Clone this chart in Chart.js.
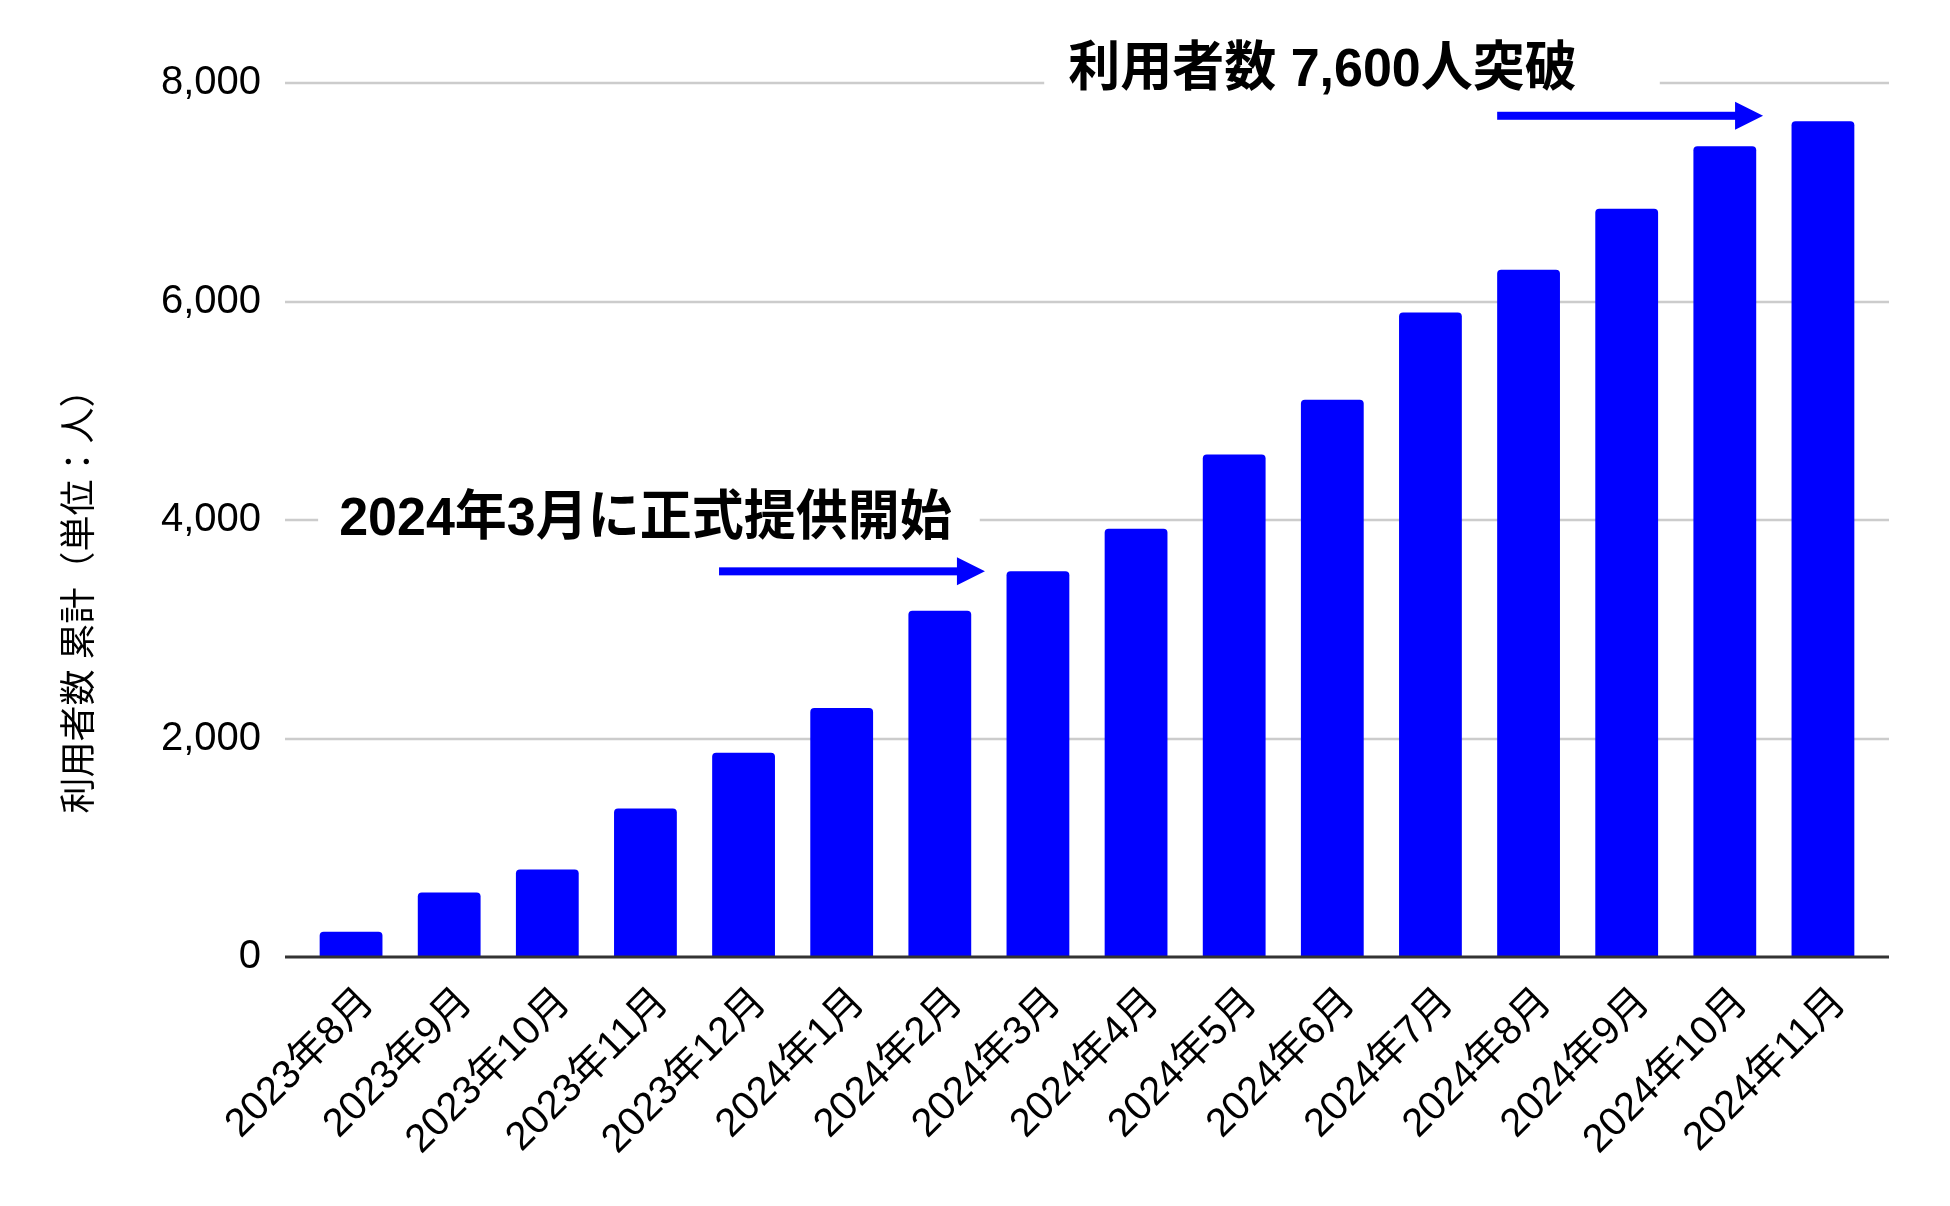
<!DOCTYPE html>
<html>
<head>
<meta charset="utf-8">
<script src="https://cdn.jsdelivr.net/npm/chart.js@4/dist/chart.umd.min.js"></script>
<style>
  body { margin: 0; background: #fff; }
</style>
</head>
<body>
<canvas id="myChart" width="1950" height="1206"></canvas>
<script>
'use strict';

// data
let months = ['2023年8月', '2023年9月', '2023年10月', '2023年11月', '2023年12月',
  '2024年1月', '2024年2月', '2024年3月', '2024年4月', '2024年5月', '2024年6月',
  '2024年7月', '2024年8月', '2024年9月', '2024年10月', '2024年11月'];
let users = [230, 590, 800, 1360, 1870, 2280, 3170, 3530, 3920, 4600, 5100, 5900, 6290, 6850, 7420, 7650];
let yTicks = [0, 2000, 4000, 6000, 8000];
let yTitle = '利用者数 累計（単位：人）';

// call-outs: text sits on a gridline, arrow points at a bar
let noteTexts = ['2024年3月に正式提供開始', '利用者数 7,600人突破'];
let noteLevels = [4000, 8000];
let noteAt = [3, 9.9];          // category position of text centre
let arrowFrom = [3.75, 11.68];  // category positions
let arrowTo = [6.46, 14.39];
let arrowLevels = [3530, 7700];

let tickFont = "'Liberation Sans', 'Noto Sans CJK JP', sans-serif";
let gridOver = 17;

let extras = {
  id: 'extras',
  beforeDatasetsDraw(chart) {
    let ctx = chart.ctx;
    let area = chart.chartArea;
    let y = chart.scales.y;
    ctx.save();
    ctx.strokeStyle = '#cccccc';
    ctx.lineWidth = 2.5;
    for (let i = 1; i < yTicks.length; i++) {
      let py = Math.round(y.getPixelForValue(yTicks[i]));
      ctx.beginPath();
      ctx.moveTo(area.left - gridOver, py);
      ctx.lineTo(area.right + gridOver, py);
      ctx.stroke();
    }
    // axis title
    ctx.fillStyle = '#000000';
    ctx.font = '36px ' + tickFont;
    ctx.textAlign = 'center';
    ctx.textBaseline = 'middle';
    ctx.translate(81, area.top + (area.bottom - area.top) * 0.583);
    ctx.rotate(-Math.PI / 2);
    ctx.fillText(yTitle, 0, 0);
    ctx.restore();
  },
  afterDatasetsDraw(chart) {
    let ctx = chart.ctx;
    let area = chart.chartArea;
    let x = chart.scales.x;
    let y = chart.scales.y;
    ctx.save();
    // base line
    let py0 = y.getPixelForValue(0);
    ctx.strokeStyle = '#333333';
    ctx.lineWidth = 3;
    ctx.beginPath();
    ctx.moveTo(area.left - gridOver, py0);
    ctx.lineTo(area.right + gridOver, py0);
    ctx.stroke();

    let padL = [21, 24];
    let padR = [28, 83];
    for (let i = 0; i < noteTexts.length; i++) {
      let cx = x.getPixelForValue(noteAt[i]);
      let cy = y.getPixelForValue(noteLevels[i]);
      ctx.font = "bold 54px 'Liberation Sans', 'Noto Sans CJK JP', sans-serif";
      let sx = 0.963;
      let w = ctx.measureText(noteTexts[i]).width * sx;
      ctx.fillStyle = '#ffffff';
      ctx.fillRect(cx - w / 2 - padL[i], cy - 34, w + padL[i] + padR[i], 68);
      ctx.fillStyle = '#000000';
      ctx.textAlign = 'center';
      ctx.textBaseline = 'middle';
      ctx.save();
      ctx.translate(cx, cy - (i === 1 ? 12 : 0));
      ctx.scale(sx, 1);
      ctx.fillText(noteTexts[i], 0, 0);
      ctx.restore();

      // arrow
      let ax0 = x.getPixelForValue(arrowFrom[i]);
      let ax1 = x.getPixelForValue(arrowTo[i]);
      let ay = y.getPixelForValue(arrowLevels[i]);
      ctx.fillStyle = '#0000ff';
      ctx.fillRect(ax0, ay - 4, ax1 - ax0 - 26, 8);
      ctx.beginPath();
      ctx.moveTo(ax1, ay);
      ctx.lineTo(ax1 - 28, ay - 14);
      ctx.lineTo(ax1 - 28, ay + 14);
      ctx.closePath();
      ctx.fill();
    }
    ctx.restore();
  }
};

let ctx = document.getElementById('myChart').getContext('2d');
let chart = new Chart(ctx, {
  type: 'bar',
  data: {
    labels: months,
    datasets: [{
      label: '利用者数',
      data: users,
      backgroundColor: '#0000ff',
      borderRadius: 4,
      borderSkipped: 'start',
      categoryPercentage: 1,
      barPercentage: 0.64
    }]
  },
  options: {
    responsive: false,
    animation: false,
    layout: { padding: { top: 83, right: 78, bottom: 0, left: 0 } },
    plugins: {
      legend: { display: false },
      tooltip: { enabled: false }
    },
    scales: {
      x: {
        offset: true,
        grid: { display: false, drawTicks: false },
        border: { display: false },
        ticks: {
          minRotation: 45,
          maxRotation: 45,
          autoSkip: false,
          padding: 22,
          labelOffset: 17,
          color: '#000000',
          font: { family: tickFont, size: 40 }
        },
        afterFit(scale) { scale.height = 249; }
      },
      y: {
        min: 0,
        max: 8000,
        grid: { display: false, drawTicks: false },
        border: { display: false },
        afterBuildTicks(scale) { scale.ticks = yTicks.map(v => ({ value: v })); },
        ticks: {
          padding: 41,
          color: '#000000',
          font: { family: tickFont, size: 40 },
          callback: v => v.toLocaleString('en-US')
        },
        afterFit(scale) { scale.width = 302; }
      }
    }
  },
  plugins: [extras]
});
</script>
</body>
</html>
